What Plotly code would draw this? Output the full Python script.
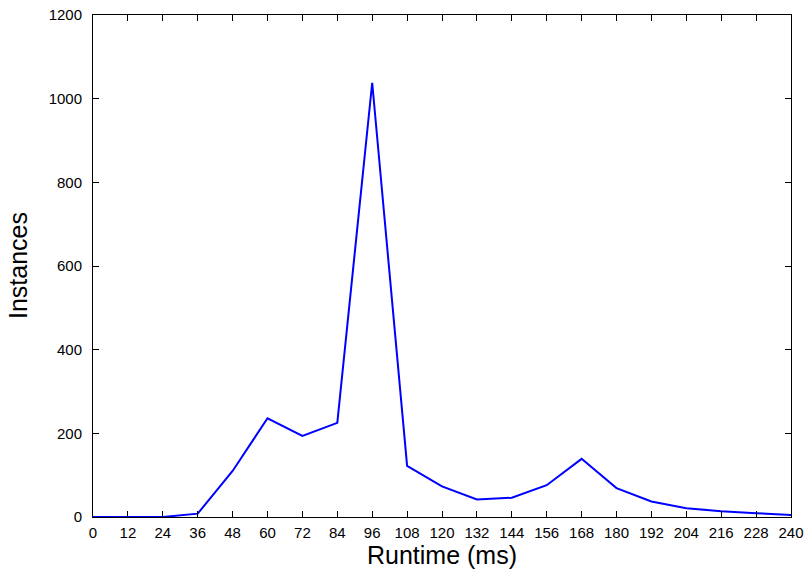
import plotly.graph_objects as go

runtime_ms = [0, 12, 24, 36, 48, 60, 72, 84, 96, 108, 120, 132, 144, 156, 168, 180, 192, 204, 216, 228, 240]
instances = [0, 0, 0, 8, 110, 236, 194, 225, 1038, 122, 73, 42, 46, 76, 139, 69, 37, 21, 14, 9, 5]
x_ticks = list(range(0, 241, 12))
y_ticks = [0, 200, 400, 600, 800, 1000, 1200]

fig = go.Figure()
fig.add_trace(go.Scatter(x=runtime_ms, y=instances, mode="lines",
                         line=dict(color="#0000ff", width=2), showlegend=False))

font = "Liberation Sans, Arial, Helvetica, sans-serif"
fig.update_layout(
    width=807, height=569,
    margin=dict(l=93, r=16, t=15, b=52),
    paper_bgcolor="white", plot_bgcolor="white",
    font=dict(family=font, color="black", size=15),
)
fig.update_xaxes(range=[0, 240], tickvals=x_ticks, ticks="inside", ticklen=6,
                 tickcolor="black", showline=True, linecolor="black", linewidth=1,
                 mirror="ticks", showgrid=False, zeroline=False, automargin=False,
                 tickfont=dict(size=15), ticklabelstandoff=2, ticklabeloverflow="allow")
fig.update_yaxes(range=[0, 1200], tickvals=y_ticks, ticks="inside", ticklen=6,
                 tickcolor="black", showline=True, linecolor="black", linewidth=1,
                 mirror="ticks", showgrid=False, zeroline=False, automargin=False,
                 tickfont=dict(size=15), ticklabelstandoff=7, ticklabeloverflow="allow")
fig.add_annotation(text="Runtime (ms)", xref="paper", yref="paper", x=0.5, y=0,
                   xanchor="center", yanchor="middle", yshift=-38, showarrow=False,
                   font=dict(size=25))
fig.add_annotation(text="Instances", xref="paper", yref="paper", x=0, y=0.5,
                   xanchor="center", yanchor="middle", xshift=-75, textangle=-90,
                   showarrow=False, font=dict(size=25))

fig.write_html("out.html", config={"displayModeBar": False},
               post_script="document.body.style.margin='0';document.body.style.overflow='hidden';")
